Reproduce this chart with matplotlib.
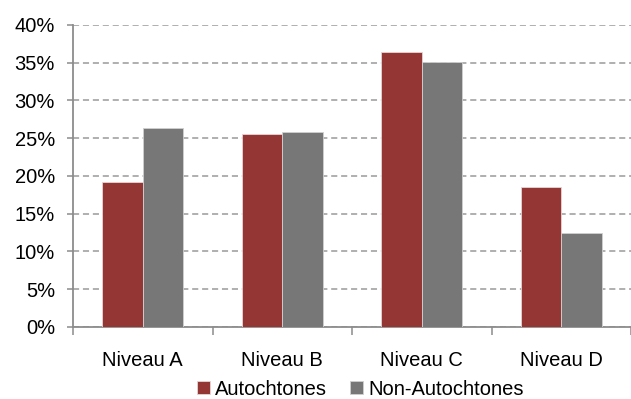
import numpy as np
import matplotlib.pyplot as plt
from matplotlib.ticker import FixedLocator, PercentFormatter

plt.rcParams['font.family'] = ['Liberation Sans', 'DejaVu Sans']

# Share of each group by level (%)
niveaux = ['Niveau A', 'Niveau B', 'Niveau C', 'Niveau D']
autochtones = [19.2, 25.6, 36.4, 18.5]
non_autochtones = [26.3, 25.8, 35.1, 12.5]

RED = '#943634'
GREY = '#777777'
AXIS_GREY = '#8c8c8c'
FONTSIZE = 14.5

fig = plt.figure(figsize=(6.31, 3.99), dpi=100)
ax = fig.add_axes([0.1157, 0.1805, 0.8843, 0.7569])

x = np.arange(len(niveaux))
w = 0.29
ax.bar(x - w / 2, autochtones, w, color=RED, edgecolor='#e8d5d5', linewidth=0.6,
       label='Autochtones', zorder=3)
ax.bar(x + w / 2, non_autochtones, w, color=GREY, edgecolor='#d0d0d0', linewidth=0.6,
       label='Non-Autochtones', zorder=3)

ax.set_xlim(-0.5, len(niveaux) - 0.5)
ax.set_ylim(0, 40)
ax.set_yticks(np.arange(0, 41, 5))
ax.yaxis.set_major_formatter(PercentFormatter(decimals=0))
ax.grid(axis='y', color='#9a9a9a', linestyle=(0, (4, 2.5)), linewidth=1.1, zorder=0)

# category labels centred, tick marks on the boundaries
ax.set_xticks(x)
ax.set_xticklabels(niveaux)
ax.xaxis.set_minor_locator(FixedLocator(np.arange(-0.5, len(niveaux), 1.0)))
ax.tick_params(axis='x', which='major', length=0, pad=17, labelsize=FONTSIZE)
ax.tick_params(axis='x', which='minor', length=6, width=1.1, color=AXIS_GREY)
ax.tick_params(axis='y', length=4, width=1.1, color=AXIS_GREY, pad=9, labelsize=FONTSIZE)

for side in ['top', 'right']:
    ax.spines[side].set_visible(False)
for side in ['left', 'bottom']:
    ax.spines[side].set_color(AXIS_GREY)
    ax.spines[side].set_linewidth(1.3)

fig.legend(loc='center', bbox_to_anchor=(0.5705, 0.025), ncol=2, frameon=False,
           fontsize=FONTSIZE, handlelength=0.65, handleheight=0.65,
           handletextpad=0.25, columnspacing=1.15, borderpad=0)

fig.savefig('out.png', dpi=100)
